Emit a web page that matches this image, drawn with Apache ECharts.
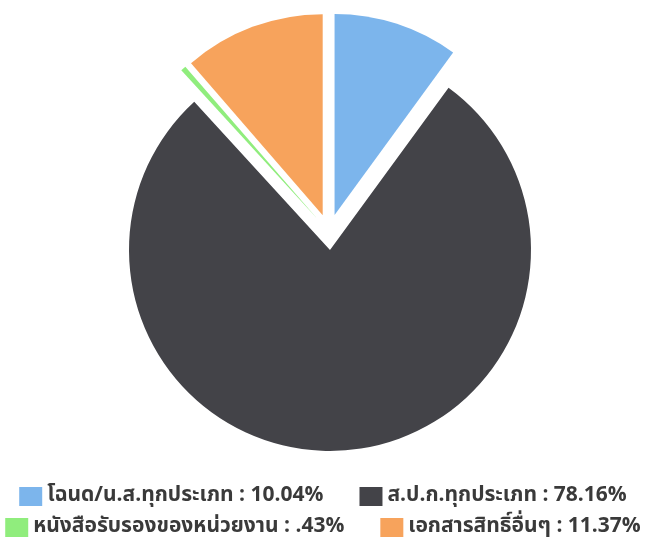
<!DOCTYPE html>
<html>
<head>
<meta charset="utf-8">
<script src="https://cdn.jsdelivr.net/npm/echarts@6/dist/echarts.min.js"></script>
<style>html,body{margin:0;padding:0;background:#fff}#c{width:646px;height:541px}</style>
</head>
<body>
<div id="c"></div>
<script>
var categories = ['โฉนด/น.ส.ทุกประเภท', 'ส.ป.ก.ทุกประเภท', 'หนังสือรับรองของหน่วยงาน', 'เอกสารสิทธิ์อื่นๆ'];
var values = [10.04, 78.16, 0.43, 11.37];
var colors = ['#7cb5ec', '#434348', '#90ed7d', '#f7a35c'];

var data = categories.map(function (n, i) {
  return { name: n, value: values[i], selected: true, itemStyle: { color: colors[i] } };
});
var valueByName = {};
categories.forEach(function (n, i) { valueByName[n] = values[i]; });
function fmt(name) {
  var s = String(valueByName[name]).replace(/^0\./, '.');
  return name + ' : ' + s + '%';
}
var legendText = { fontSize: 21, fontWeight: 'bold', color: '#3a3a3a', lineHeight: 21, fontFamily: 'Noto Sans Thai, Noto Sans, sans-serif' };
var chart = echarts.init(document.getElementById('c'));
chart.setOption({
  animation: false,
  legend: [
    { data: [categories[0], categories[1]], left: 'center', top: 486, padding: 0, icon: 'rect', itemWidth: 23, itemHeight: 19, itemGap: 36, formatter: fmt, textStyle: legendText, selectedMode: false },
    { data: [categories[2], categories[3]], left: 'center', top: 517, padding: 0, icon: 'rect', itemWidth: 23, itemHeight: 19, itemGap: 36, formatter: fmt, textStyle: legendText, selectedMode: false }
  ],
  series: [{
    type: 'pie',
    center: [329, 232],
    radius: [0, 201],
    startAngle: 90,
    clockwise: true,
    selectedMode: 'multiple',
    selectedOffset: 18,
    label: { show: false },
    labelLine: { show: false },
    emphasis: { disabled: true },
    itemStyle: { borderWidth: 0 },
    data: data
  }]
});
</script>
</body>
</html>
